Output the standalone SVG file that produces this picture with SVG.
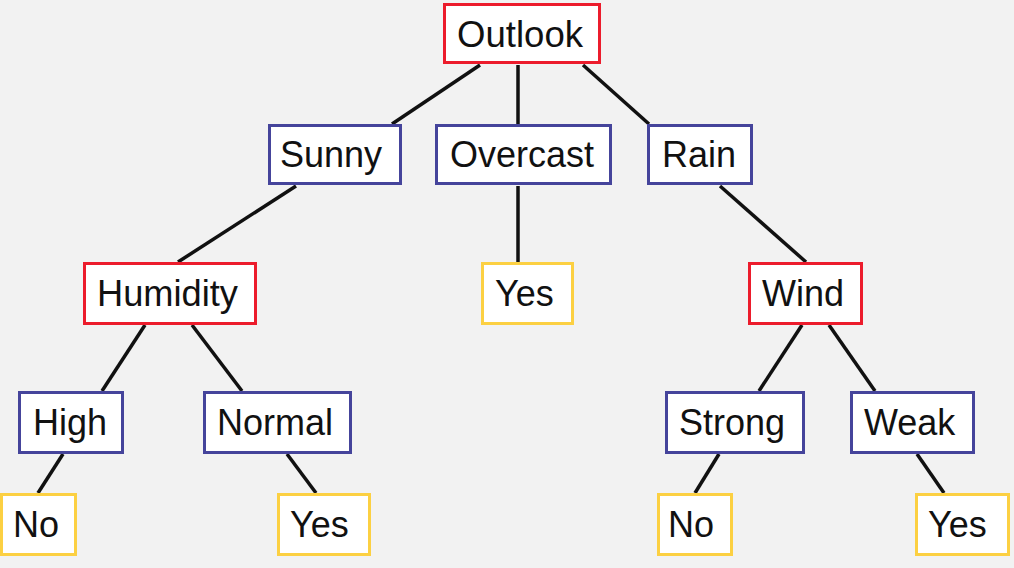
<svg xmlns="http://www.w3.org/2000/svg" width="1014" height="568" viewBox="0 0 1014 568">
<style>
.bg{fill:#f2f2f2}
rect.n{fill:#ffffff;stroke-width:3}
.red{stroke:#ec1c2c}
.blue{stroke:#45449b}
.yel{stroke:#fcd042}
text{font-family:"Liberation Sans",Arial,sans-serif;font-size:36px;fill:#111111}
.e line{stroke:#111111;stroke-width:3.5}
</style>
<rect class="bg" x="0" y="0" width="1014" height="568"/>
<g class="e" id="connectors">
<line x1="480" y1="65" x2="392" y2="124"/>
<line x1="518" y1="65" x2="518" y2="124"/>
<line x1="583" y1="65" x2="649" y2="124"/>
<line x1="296" y1="186" x2="178" y2="262"/>
<line x1="518" y1="186" x2="518" y2="262"/>
<line x1="720" y1="186" x2="806" y2="262"/>
<line x1="145" y1="325" x2="102" y2="391"/>
<line x1="192" y1="325" x2="242" y2="391"/>
<line x1="802" y1="325" x2="759" y2="391"/>
<line x1="829" y1="325" x2="875" y2="391"/>
<line x1="63" y1="454" x2="38" y2="493"/>
<line x1="287" y1="454" x2="316" y2="493"/>
<line x1="719" y1="454" x2="695" y2="493"/>
<line x1="917" y1="454" x2="944" y2="493"/>
</g>
<g id="outlook"><rect class="n red" x="444.5" y="4.5" width="155" height="58"/><text x="457" y="47" textLength="126" lengthAdjust="spacingAndGlyphs">Outlook</text></g>
<g id="sunny"><rect class="n blue" x="269.5" y="125.5" width="131" height="58"/><text x="280" y="167">Sunny</text></g>
<g id="overcast"><rect class="n blue" x="436.5" y="125.5" width="174" height="58"/><text x="450" y="167">Overcast</text></g>
<g id="rain"><rect class="n blue" x="648.5" y="125.5" width="103" height="58"/><text x="662" y="167">Rain</text></g>
<g id="humidity"><rect class="n red" x="84.5" y="263.5" width="171" height="60"/><text x="97" y="306" textLength="141" lengthAdjust="spacingAndGlyphs">Humidity</text></g>
<g id="yes-overcast"><rect class="n yel" x="482.5" y="263.5" width="90" height="60"/><text x="495" y="306">Yes</text></g>
<g id="wind"><rect class="n red" x="749.5" y="263.5" width="112" height="60"/><text x="762" y="306">Wind</text></g>
<g id="high"><rect class="n blue" x="19.5" y="392.5" width="103" height="60"/><text x="33" y="435">High</text></g>
<g id="normal"><rect class="n blue" x="204.5" y="392.5" width="146" height="60"/><text x="217" y="435">Normal</text></g>
<g id="strong"><rect class="n blue" x="666.5" y="392.5" width="137" height="60"/><text x="679" y="435">Strong</text></g>
<g id="weak"><rect class="n blue" x="851.5" y="392.5" width="122" height="60"/><text x="864" y="435">Weak</text></g>
<g id="no-high"><rect class="n yel" x="1.5" y="494.5" width="74" height="60"/><text x="13" y="537">No</text></g>
<g id="yes-normal"><rect class="n yel" x="278.5" y="494.5" width="91" height="60"/><text x="290" y="537">Yes</text></g>
<g id="no-strong"><rect class="n yel" x="658.5" y="494.5" width="73" height="60"/><text x="668" y="537">No</text></g>
<g id="yes-weak"><rect class="n yel" x="916.5" y="494.5" width="92" height="60"/><text x="928" y="537">Yes</text></g>
</svg>
